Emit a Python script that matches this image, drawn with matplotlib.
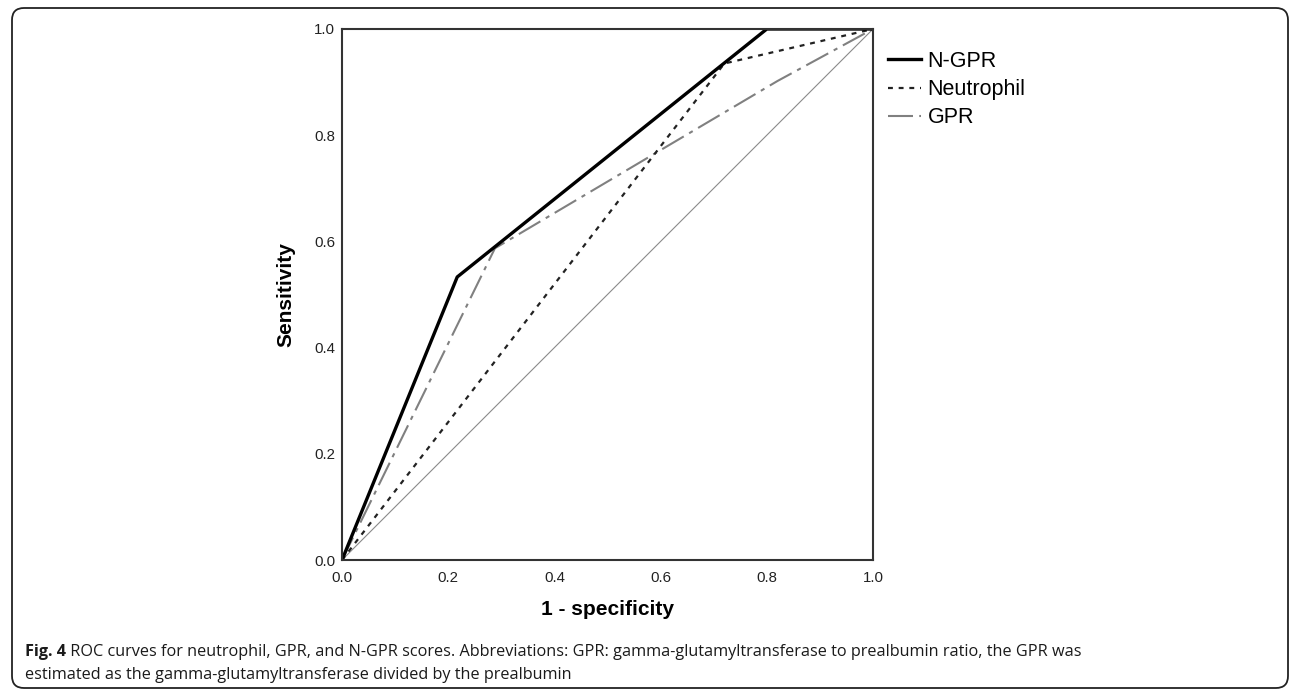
import matplotlib
matplotlib.use('Agg')
import matplotlib.pyplot as plt
from matplotlib.patches import FancyBboxPatch

plt.rcParams['font.family'] = ['Liberation Sans', 'DejaVu Sans']

# ROC points (1 - specificity, sensitivity)
ngpr_x = [0.0, 0.217, 0.80, 1.0]
ngpr_y = [0.0, 0.533, 1.0, 1.0]

neut_x = [0.0, 0.72, 1.0]
neut_y = [0.0, 0.935, 1.0]

gpr_x = [0.0, 0.288, 0.59, 0.82, 1.0]
gpr_y = [0.0, 0.587, 0.766, 0.902, 1.0]

ref_x = [0.0, 1.0]
ref_y = [0.0, 1.0]

ticks = [0.0, 0.2, 0.4, 0.6, 0.8, 1.0]
tick_labels = ['0.0', '0.2', '0.4', '0.6', '0.8', '1.0']

caption_bold = 'Fig. 4'
caption_line1 = (' ROC curves for neutrophil, GPR, and N-GPR scores. Abbreviations: GPR: '
                 'gamma-glutamyltransferase to prealbumin ratio, the GPR was')
caption_line2 = 'estimated as the gamma-glutamyltransferase divided by the prealbumin'

W, H = 1295, 691
fig = plt.figure(figsize=(W / 100, H / 100), dpi=100)

# background layer in pixel coordinates for the rounded frame and caption
bg = fig.add_axes([0, 0, 1, 1])
bg.set_xlim(0, W)
bg.set_ylim(H, 0)
bg.axis('off')
frame = FancyBboxPatch((12, 8), 1276, 680, boxstyle='round,pad=0,rounding_size=12',
                       fill=False, edgecolor='#222222', linewidth=1.3)
bg.add_patch(frame)

# main plot
ax = fig.add_axes([342 / W, 1 - 560 / H, 531 / W, 531 / H])
ax.plot(ref_x, ref_y, color='#8a8a8a', linewidth=0.8)
ax.plot(gpr_x, gpr_y, color='#808080', linewidth=1.5, linestyle=(0, (12, 3, 2, 3)), label='GPR')
ax.plot(neut_x, neut_y, color='#222222', linewidth=1.6, linestyle=(0, (2.2, 2.6)), label='Neutrophil')
ax.plot(ngpr_x, ngpr_y, color='black', linewidth=2.4, label='N-GPR')

ax.set_xlim(0, 1)
ax.set_ylim(0, 1)
ax.set_xticks(ticks)
ax.set_xticklabels(tick_labels)
ax.set_yticks(ticks)
ax.set_yticklabels(tick_labels)
ax.tick_params(length=0, labelsize=10.8, colors='#222222')
ax.tick_params(axis='x', pad=8)
ax.tick_params(axis='y', pad=5)
for s in ax.spines.values():
    s.set_color('#333333')
    s.set_linewidth(1.5)

ax.set_xlabel('1 - specificity', fontsize=15, fontweight='bold', labelpad=11)
ax.set_ylabel('Sensitivity', fontsize=15, fontweight='bold', labelpad=13)

handles, labels = ax.get_legend_handles_labels()
order = [2, 1, 0]
fig.legend([handles[i] for i in order], [labels[i] for i in order],
           loc='upper left', bbox_to_anchor=(888 / W, 1 - 51 / H),
           frameon=False, fontsize=15.5, borderpad=0, borderaxespad=0,
           handlelength=1.55, handletextpad=0.28, labelspacing=0.33)

# caption
cap_font = ['Open Sans', 'DejaVu Sans']
t1 = bg.text(25, 652, caption_bold, fontsize=11.7, fontweight='bold', family=cap_font,
             va='center', ha='left', color='#1a1a1a')
fig.canvas.draw()
ext = t1.get_window_extent()
bg.text(25 + ext.width, 652, caption_line1, fontsize=11.7, family=cap_font,
        va='center', ha='left', color='#1a1a1a')
bg.text(25, 675, caption_line2, fontsize=11.7, family=cap_font,
        va='center', ha='left', color='#1a1a1a')

fig.savefig('out.png', dpi=100)
